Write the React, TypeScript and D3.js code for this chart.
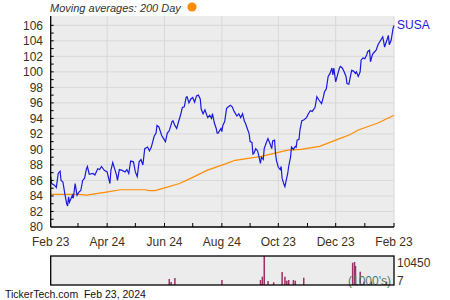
import React from "react";
import * as d3 from "d3";

// Price series: day offset from 2023-02-23, closing price
const priceDays = [0,1,4,6,8,10,11,13,15,17,18,19,20,23,24,26,28,30,32,34,36,38,39,41,45,47,50,52,54,57,60,63,64,66,68,70,71,73,76,79,81,83,85,88,90,92,94,96,98,100,103,105,107,110,112,113,115,118,120,122,124,126,129,130,132,134,136,138,140,142,144,145,147,149,151,153,155,157,159,160,162,164,166,167,169,171,172,174,176,177,178,181,182,183,185,187,189,191,193,195,198,200,202,204,206,207,209,211,212,214,215,216,218,220,221,223,224,226,227,229,231,233,235,236,238,239,240,242,244,245,246,248,249,250,252,253,255,256,258,260,261,262,264,265,267,269,272,274,276,278,281,283,285,288,290,291,293,295,297,299,300,301,303,305,307,308,310,312,314,315,317,319,320,322,324,325,327,329,330,332,334,336,337,339,340,342,343,346,348,351,353,354,355,358,359,360,362,364,365];
const priceVals = [86.5,85.6,85.4,85.1,86.9,87.2,86.0,85.8,84.3,83.0,82.7,83.9,83.2,84.1,83.7,85.6,84.1,84.5,84.7,86.0,86.3,87.5,87.8,86.8,86.9,86.7,87.5,87.4,87.8,87.3,87.1,85.6,87.3,88.3,87.5,86.7,86.0,87.4,87.3,87.1,87.4,86.9,88.5,88.4,87.1,86.5,88.4,88.7,88.0,90.1,90.3,89.8,90.3,91.7,92.1,93.1,92.9,91.8,91.4,91.0,92.1,92.4,93.6,93.7,93.1,92.7,93.6,94.4,95.4,95.5,96.7,96.8,96.0,96.5,96.7,96.1,96.9,97.0,96.5,95.2,94.6,95.1,94.4,94.1,94.4,94.0,94.6,93.4,92.7,92.1,92.1,92.7,92.3,93.1,93.6,95.3,95.5,95.7,95.5,94.9,94.3,94.6,94.1,94.6,93.6,93.4,92.7,92.0,91.0,90.9,89.4,89.5,90.1,89.8,89.3,88.2,89.0,88.7,90.1,90.8,91.4,90.8,90.1,91.1,91.2,89.5,88.6,87.7,87.4,87.8,86.3,85.5,85.2,85.8,86.9,87.8,89.0,90.3,90.0,90.4,90.3,91.2,91.3,92.5,93.7,93.8,94.1,94.6,95.0,94.9,95.4,96.8,96.4,95.9,96.8,97.4,97.8,99.4,99.8,100.5,99.6,100.5,98.7,99.6,100.5,100.7,100.5,100.0,99.4,98.5,98.4,99.6,100.2,100.1,99.8,100.0,99.4,100.0,101.5,101.8,101.7,102.2,102.6,102.8,101.3,102.2,102.4,102.8,103.5,104.1,104.5,103.9,103.2,104.3,104.7,103.5,104.1,105.6,106.0];

// 200-day moving average
const maDays = [0,30,38,59,74,100,105,111,123,137,151,166,185,196,224,252,266,286,305,318,327,348,365];
const maVals = [84.2,84.2,84.1,84.5,84.8,84.8,84.7,84.7,85.1,85.6,86.4,87.3,88.1,88.6,89.1,89.9,90.0,90.4,91.3,91.9,92.5,93.4,94.4];

// Volume (1000's)
const volDays = [126,128,132,182,223,225,227,231,237,246,249,251,253,258,260,269,321,323,324,329,333,341,357];
const volVals = [2160,1080,2520,1800,1800,2990,10450,1440,970,4680,2990,1550,1800,1800,1550,2630,8030,8290,6850,4790,1190,1190,1190];

const yTicks = [80,82,84,86,88,90,92,94,96,98,100,102,104,106];
const xTickDates = ["2023-02-23","2023-04-24","2023-06-24","2023-08-24","2023-10-23","2023-12-23","2024-02-23"];
const xTickLabels = ["Feb 23","Apr 24","Jun 24","Aug 24","Oct 23","Dec 23","Feb 23"];
const xMinorDates = ["2023-03-24","2023-05-24","2023-07-24","2023-09-23","2023-11-23","2024-01-23"];

const parse = (s: string) => {
  const [y, m, d] = s.split("-").map(Number);
  return new Date(y, m - 1, d);
};
const start = parse("2023-02-23");
const end = parse("2024-02-23");
const dayDate = (n: number) => d3.timeDay.offset(start, n);

export default function App() {
  const L = 50.7, R = 394, T = 16, B = 227;
  const vT = 256, vB = 285;
  const x = d3.scaleTime().domain([start, end]).range([L, R]);
  const y = d3.scaleLinear().domain([80, 107.2]).range([B, T]);
  const yv = d3.scaleLinear().domain([0, 10450]).range([vB, vT]);

  const line = d3.line<[number, number]>().x(d => x(dayDate(d[0]))).y(d => y(d[1]));
  const pricePath = line(priceDays.map((d, i) => [d, priceVals[i]]) as [number, number][]) || "";
  const maPath = line(maDays.map((d, i) => [d, maVals[i]]) as [number, number][]) || "";
  const minorY = d3.range(81, 107, 1);
  const font = "Arial, 'Liberation Sans', sans-serif";
  const txt = "#3d3219";

  return (
    <svg width={450} height={300} style={{ position: "absolute", left: 0, top: 0 }} fontFamily={font}>
      <rect x={0} y={0} width={450} height={300} fill="#fff" />
      {/* plot background */}
      <rect x={L} y={T} width={R - L} height={B - T} fill="#ececec" />
      {yTicks.filter(v => v > 80).map(v => (
        <line key={"gy" + v} x1={L} x2={R} y1={y(v)} y2={y(v)} stroke="#d8d8d8" strokeWidth={1} />
      ))}
      {xTickDates.slice(1).map(s => (
        <line key={"gx" + s} x1={x(parse(s))} x2={x(parse(s))} y1={T} y2={B} stroke="#d8d8d8" strokeWidth={1} />
      ))}
      <path d={maPath} fill="none" stroke="#ff8c00" strokeWidth={1.2} />
      <path d={pricePath} fill="none" stroke="#1a1adc" strokeWidth={1.2} />
      {/* axes */}
      <line x1={L} x2={L} y1={T} y2={B} stroke="#000" strokeWidth={1.3} />
      <line x1={L} x2={R} y1={B} y2={B} stroke="#000" strokeWidth={1.3} />
      {minorY.map(v => (
        <line key={"ty" + v} x1={L} x2={L + 3} y1={y(v)} y2={y(v)} stroke="#000" strokeWidth={1} />
      ))}
      {[...xTickDates, ...xMinorDates].map(s => (
        <line key={"tx" + s} x1={x(parse(s))} x2={x(parse(s))} y1={B} y2={B - 4} stroke="#000" strokeWidth={1} />
      ))}
      {yTicks.map(v => (
        <text key={"ly" + v} x={43} y={y(v)} dy="0.36em" textAnchor="end" fontSize={12} fill={txt}>{v}</text>
      ))}
      {xTickDates.map((s, i) => (
        <text key={"lx" + s} x={x(parse(s))} y={246} textAnchor="middle" fontSize={12} fill={txt}>{xTickLabels[i]}</text>
      ))}
      <text x={397} y={24.5} dy="0.36em" fontSize={12} fill="#1a1adc">SUSA</text>
      {/* title */}
      <text x={50} y={12} fontSize={11} fontStyle="italic" fill="#333">Moving averages: 200 Day</text>
      <circle cx={192} cy={7} r={4.6} fill="#ff8c00" />
      {/* volume panel */}
      <rect x={L} y={vT} width={R - L} height={vB - vT} fill="#ececec" />
      {volDays.map((d, i) => (
        <rect key={"v" + i} x={x(dayDate(d)) - 0.7} y={yv(volVals[i])} width={1.5} height={vB - yv(volVals[i])} fill="#993366" />
      ))}
      <text x={391} y={281} dy="0.36em" textAnchor="end" fontSize={12} fill="#4f7a64">(1000's)</text>
      <rect x={L} y={vT} width={R - L} height={vB - vT} fill="none" stroke="#000" strokeWidth={1.3} />
      <text x={397} y={262.5} dy="0.36em" fontSize={12} fill={txt}>10450</text>
      <text x={397} y={281} dy="0.36em" fontSize={12} fill={txt}>7</text>
      <text x={5} y={297.5} fontSize={10.5} fill="#111" style={{ whiteSpace: "pre" }}>TickerTech.com  Feb 23, 2024</text>
    </svg>
  );
}
